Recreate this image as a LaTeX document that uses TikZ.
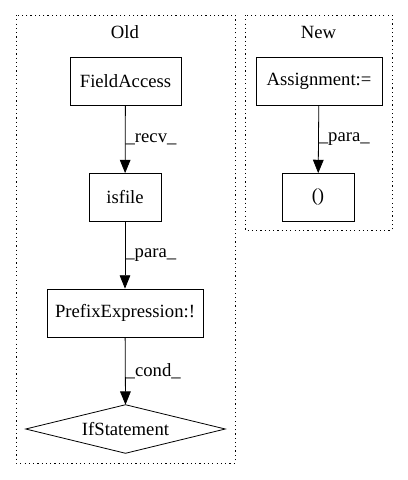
\documentclass[tikz,border=0pt]{standalone}
\usepackage{fontspec}
\setmainfont{Liberation Serif}
\usetikzlibrary{arrows.meta}
\begin{document}
\begin{tikzpicture}[x=0.75pt,y=-0.75pt,
  every node/.style={font=\fontsize{14}{16}\selectfont},
  box/.style={draw,line width=0.6pt,minimum height=36pt,inner sep=0pt},
  dbox/.style={minimum height=36pt,inner sep=0pt},
  cluster/.style={draw,line width=0.7pt,dash pattern=on 0.9pt off 2.3pt},
  edge/.style={draw,line width=0.6pt,-{Triangle[length=10pt,width=8pt]}},
  elabel/.style={right,inner sep=0pt}]
\useasboundingbox (0,0) rectangle (408,480);
\draw[cluster] (16,15) rectangle (235,463);
\draw[cluster] (245,15) rectangle (392,230);
\node (oldlbl) at (125,32) {Old};
\node (newlbl) at (318.5,32) {New};
\node[box,minimum width=83.25pt] (fa) at (125.5,81) {FieldAccess};
\node[box,minimum width=54pt] (isf) at (125,197.5) {isfile};
\node[box,minimum width=117pt] (pre) at (125,313) {PrefixExpression:!};
\node[dbox,minimum width=149.25pt] (ifs) at (125.5,429) {IfStatement};
\draw[line width=0.6pt] (ifs.west) -- (ifs.north) -- (ifs.east) -- (ifs.south) -- cycle;
\node[box,minimum width=94.5pt] (asg) at (319,81) {Assignment:=};
\node[box,minimum width=54pt] (par) at (318,197.5) {()};
\draw[edge] (fa) -- node[elabel] {\_recv\_} (isf);
\draw[edge] (isf) -- node[elabel] {\_para\_} (pre);
\draw[edge] (pre) -- node[elabel] {\_cond\_} (ifs.north);
\draw[edge] (asg) -- node[elabel] {\_para\_} (par);
\end{tikzpicture}
\end{document}
